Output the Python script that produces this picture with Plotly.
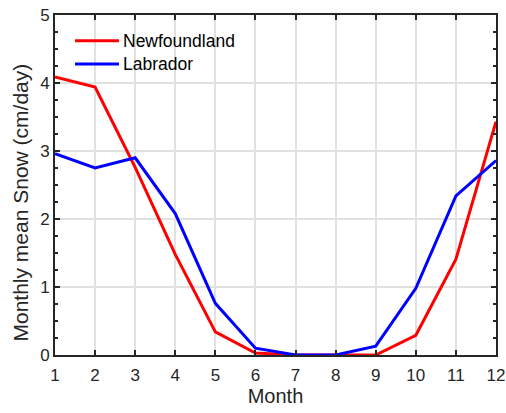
import plotly.graph_objects as go

months = list(range(1, 13))
newfoundland = [4.09, 3.94, 2.76, 1.48, 0.34, 0.03, 0.0, 0.0, 0.0, 0.29, 1.41, 3.43]
labrador = [2.96, 2.75, 2.90, 2.08, 0.76, 0.10, 0.0, 0.0, 0.13, 0.98, 2.34, 2.86]
series_names = ["Newfoundland", "Labrador"]
series_colors = ["#ff0000", "#0000ff"]

FONT = "Liberation Sans, Arial, Helvetica, sans-serif"
AXIS_COLOR = "#262626"
GRID_COLOR = "#e1e1e1"

W, H = 506, 413
M_L, M_R, M_T, M_B = 55, 10, 15, 58
PLOT_W = W - M_L - M_R
PLOT_H = H - M_T - M_B


def px_to_paper(px, py):
    """Convert a pixel position on the page to paper coordinates."""
    return (px - M_L) / PLOT_W, (H - M_B - py) / PLOT_H


fig = go.Figure()
for name, ys, color in zip(series_names, [newfoundland, labrador], series_colors):
    fig.add_trace(go.Scatter(x=months, y=ys, mode="lines", name=name,
                             line=dict(color=color, width=3), showlegend=False))

common_axis = dict(
    showline=True, linecolor=AXIS_COLOR, linewidth=2, mirror="allticks",
    ticks="inside", ticklen=5, tickwidth=2, tickcolor=AXIS_COLOR,
    showgrid=True, gridcolor=GRID_COLOR, gridwidth=2, automargin=False,
    ticklabeloverflow="allow",
    zeroline=False, tickfont=dict(family=FONT, size=17, color=AXIS_COLOR),
)

fig.update_xaxes(range=[1, 12], tickmode="linear", tick0=1, dtick=1,
                 ticklabelstandoff=4,
                 title=dict(text="Month", font=dict(family=FONT, size=20, color=AXIS_COLOR),
                            standoff=5),
                 **common_axis)
fig.update_yaxes(range=[0, 5], tickmode="linear", tick0=0, dtick=1,
                 minor=dict(ticks="inside", dtick=0.25, ticklen=3, tickwidth=2,
                            tickcolor=AXIS_COLOR, showgrid=False),
                 **common_axis)

# y-axis label placed as a rotated annotation
yx, yy = px_to_paper(20, 202.5)
fig.add_annotation(text="Monthly mean Snow (cm/day)", xref="paper", yref="paper",
                   x=yx, y=yy, xanchor="center", yanchor="middle", textangle=-90,
                   showarrow=False, font=dict(family=FONT, size=21, color=AXIS_COLOR))

# legend: line samples and labels in the upper-left corner
for i, (name, color) in enumerate(zip(series_names, series_colors)):
    row_y = 40.7 + i * 23.3
    x0, y0 = px_to_paper(75, row_y)
    x1, _ = px_to_paper(119, row_y)
    fig.add_shape(type="line", xref="paper", yref="paper", x0=x0, x1=x1, y0=y0, y1=y0,
                  line=dict(color=color, width=3))
    tx, _ = px_to_paper(121, row_y)
    fig.add_annotation(text=name, xref="paper", yref="paper", x=tx, y=y0,
                       xanchor="left", yanchor="middle", showarrow=False,
                       font=dict(family=FONT, size=17.5, color="#000000"))

fig.update_layout(
    width=W, height=H,
    margin=dict(l=M_L, r=M_R, t=M_T, b=M_B, autoexpand=False),
    paper_bgcolor="white", plot_bgcolor="white",
    font=dict(family=FONT, color=AXIS_COLOR),
    showlegend=False,
)

fig.write_html("out.html")
